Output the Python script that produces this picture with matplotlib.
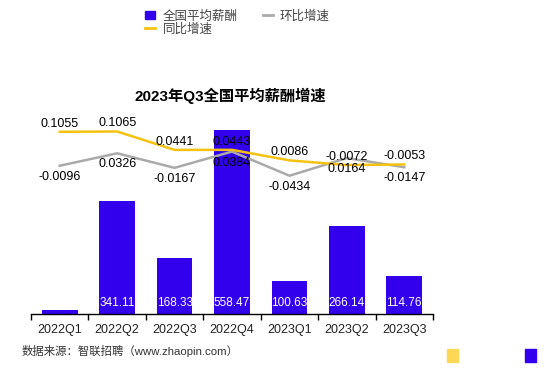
import matplotlib.pyplot as plt
from matplotlib.patches import Rectangle
from matplotlib.lines import Line2D
import numpy as np

plt.rcParams['font.family'] = ['Liberation Sans', 'Noto Sans CJK SC', 'DejaVu Sans']

# data
quarters = ['2022Q1', '2022Q2', '2022Q3', '2022Q4', '2023Q1', '2023Q2', '2023Q3']
salary = [13, 341.11, 168.33, 558.47, 100.63, 266.14, 114.76]
salary_labels = ['', '341.11', '168.33', '558.47', '100.63', '266.14', '114.76']
yoy = [0.1055, 0.1065, 0.0441, 0.0443, 0.0086, -0.0072, -0.0053]   # 同比增速
qoq = [-0.0096, 0.0326, -0.0167, 0.0384, -0.0434, 0.0164, -0.0147]  # 环比增速

bar_color = '#3300ee'
yoy_color = '#f5c211'
qoq_color = '#aaaaaa'

W, H = 557, 370
fig = plt.figure(figsize=(W / 100, H / 100), dpi=100)
ax = fig.add_axes([31 / W, 1 - 314 / H, (433 - 31) / W, (314 - 116) / H])
x = np.arange(len(quarters))

ax.bar(x, salary, width=0.62, color=bar_color, zorder=2)
ax.set_xlim(-0.5, len(quarters) - 0.5)
ax.set_ylim(0, 600)
for xi, lab in zip(x, salary_labels):
    ax.annotate(lab, (xi, 0), xytext=(0, 11), textcoords='offset pixels',
                ha='center', va='center', color='white', fontsize=8.5, zorder=3)

for s in ['top', 'right', 'left']:
    ax.spines[s].set_visible(False)
ax.spines['bottom'].set_linewidth(1)
ax.set_yticks([])
ax.set_xticks(x)
ax.set_xticklabels(quarters, fontsize=9, color='#222222')
ax.tick_params(axis='x', which='major', length=0, pad=7)
ax.set_xticks(np.arange(-0.5, len(quarters)), minor=True)
ax.tick_params(axis='x', which='minor', length=4, width=1)

ax2 = ax.twinx()
ax2.set_ylim(-0.512, 0.159)
ax2.plot(x, qoq, color=qoq_color, linewidth=1.8)
ax2.plot(x, yoy, color=yoy_color, linewidth=1.8)
for xi, v in zip(x, yoy):
    ax2.annotate(f'{v:.4f}', (xi, v), xytext=(0, 8), textcoords='offset pixels',
                 ha='center', va='center', fontsize=9, color='black')
for xi, v in zip(x, qoq):
    ax2.annotate(f'{v:.4f}', (xi, v), xytext=(0, -11), textcoords='offset pixels',
                 ha='center', va='center', fontsize=9, color='black')
ax2.axis('off')

# title
fig.text(230 / W, 1 - 96 / H, '2023年Q3全国平均薪酬增速', ha='center', va='center',
         fontsize=11, fontweight='bold', color='black')

# legend
handles = [Rectangle((0, 0), 1, 1, color=bar_color),
           Line2D([0], [0], color=yoy_color, linewidth=2),
           Line2D([0], [0], color=qoq_color, linewidth=2)]
fig.legend(handles, ['全国平均薪酬', '同比增速', '环比增速'], ncol=2,
           loc='upper left', bbox_to_anchor=(145 / W, 1 - 10 / H), frameon=False,
           fontsize=9, handlelength=0.8, handleheight=0.65, handletextpad=0.6,
           columnspacing=2.0, labelspacing=0.05, labelcolor='#444444',
           borderpad=0, borderaxespad=0)

# source
fig.text(22 / W, 1 - 351 / H, '数据来源：智联招聘（www.zhaopin.com）', ha='left', va='center',
         fontsize=8.2, color='#333333')

# small swatches at bottom right
fig.patches.append(Rectangle((447 / W, 1 - 362 / H), 11 / W, 13 / H, color='#fcd856',
                             transform=fig.transFigure, figure=fig))
fig.patches.append(Rectangle((525 / W, 1 - 362 / H), 11 / W, 13 / H, color=bar_color,
                             transform=fig.transFigure, figure=fig))

fig.savefig('out.png', dpi=100)
